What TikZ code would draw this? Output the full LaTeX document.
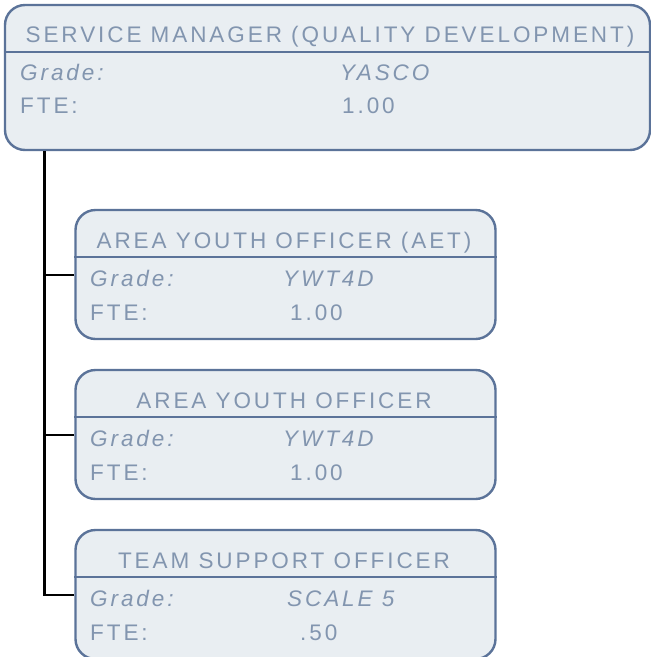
\documentclass[tikz,border=0pt]{standalone}
\usepackage{fontspec}
\setmainfont{Liberation Sans}[LetterSpace=13]
\definecolor{boxfill}{HTML}{E9EEF2}
\definecolor{boxline}{HTML}{5B7399}
\definecolor{txt}{HTML}{8295AF}
\begin{document}
\begin{tikzpicture}[x=1pt,y=-1pt,
  box/.style={draw=boxline, fill=boxfill, line width=2.4pt, rounded corners=20pt, inner sep=0pt},
  divider/.style={draw=boxline, line width=2pt},
  lbl/.style={text=txt, inner sep=0pt, anchor=base west, font=\fontsize{22.5}{22.5}\selectfont},
  ttl/.style={text=txt, inner sep=0pt, anchor=base, font=\fontsize{22.5}{22.5}\selectfont},
  conn/.style={draw=black, line width=2.3pt}]
\useasboundingbox (0,0) rectangle (651,657);
% top box
\node[box, minimum width=645pt, minimum height=145pt] (top) at (327.5,77.5) {};
\draw[divider] (top.west |- 0,52) -- (top.east |- 0,52);
\node[ttl] (topt) at (330,42) {SERVICE MANAGER (QUALITY DEVELOPMENT)};
\node[lbl] (topg) at (20,80) {\itshape Grade:};
\node[lbl] (topgv) at (340,80) {\itshape YASCO};
\node[lbl] (topf) at (20,113) {FTE:};
\node[lbl] (topfv) at (342,113) {1.00};
% child 1
\node[box, minimum width=420pt, minimum height=129pt] (c1) at (285.5,274.5) {};
\draw[divider] (c1.west |- 0,257) -- (c1.east |- 0,257);
\node[ttl] (c1t) at (284,248) {AREA YOUTH OFFICER (AET)};
\node[lbl] (c1g) at (90,286) {\itshape Grade:};
\node[lbl] (c1gv) at (283,286) {\itshape YWT4D};
\node[lbl] (c1f) at (90,320) {FTE:};
\node[lbl] (c1fv) at (290,320) {1.00};
% child 2
\node[box, minimum width=420pt, minimum height=129pt] (c2) at (285.5,434.5) {};
\draw[divider] (c2.west |- 0,417) -- (c2.east |- 0,417);
\node[ttl] (c2t) at (284,408) {AREA YOUTH OFFICER};
\node[lbl] (c2g) at (90,446) {\itshape Grade:};
\node[lbl] (c2gv) at (283,446) {\itshape YWT4D};
\node[lbl] (c2f) at (90,480) {FTE:};
\node[lbl] (c2fv) at (290,480) {1.00};
% child 3
\node[box, minimum width=420pt, minimum height=129pt] (c3) at (285.5,594.5) {};
\draw[divider] (c3.west |- 0,577) -- (c3.east |- 0,577);
\node[ttl] (c3t) at (284,568) {TEAM SUPPORT OFFICER};
\node[lbl] (c3g) at (90,606) {\itshape Grade:};
\node[lbl] (c3gv) at (287,606) {\itshape SCALE 5};
\node[lbl] (c3f) at (90,640) {FTE:};
\node[lbl] (c3fv) at (300,640) {.50};
% connectors
\coordinate (trunk) at (44.5,0);
\draw[conn] (top.south -| trunk) -- (trunk |- 0,595) -- (c3.west |- 0,595);
\draw[conn] (trunk |- 0,275) -- (c1.west |- 0,275);
\draw[conn] (trunk |- 0,435) -- (c2.west |- 0,435);
\end{tikzpicture}
\end{document}
